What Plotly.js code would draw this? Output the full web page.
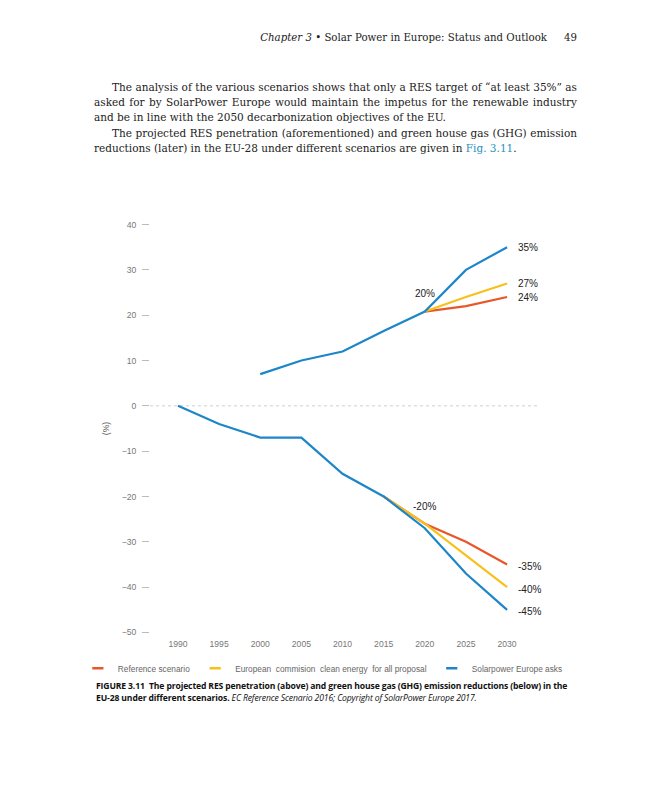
<!DOCTYPE html>
<html>
<head>
<meta charset="utf-8">
<script src="https://cdn.plot.ly/plotly-3.0.1.min.js"></script>
<style>
  html, body { margin: 0; padding: 0; background: #fff; }
  #page { position: relative; width: 647px; height: 800px; overflow: hidden; }
  #chart { position: absolute; left: 0; top: 0; width: 647px; height: 800px; }
  .serif { font-family: "DejaVu Serif", serif; font-size: 10.2px; color: #222; position: absolute; white-space: nowrap; }
  .line { position: absolute; left: 94px; width: 483px; font-family: "DejaVu Serif", serif; font-size: 10.5px; color: #222; line-height: 15px; white-space: nowrap; }
  .just { text-align: justify; text-align-last: justify; white-space: normal; }
  .cap { position: absolute; left: 96px; font-family: "Open Sans", sans-serif; font-size: 8.6px; color: #111; white-space: nowrap; letter-spacing: -0.13px; line-height: 12px; }
</style>
</head>
<body>
<div id="page">
  <div id="chart"></div>
  <div class="serif" style="right:70px; top:32px;"><i>Chapter 3</i> • Solar Power in Europe: Status and Outlook<span style="display:inline-block;width:17px"></span>49</div>
  <div class="line just" style="top:80px; left:112px; width:465px;">The analysis of the various scenarios shows that only a RES target of “at least 35%” as</div>
  <div class="line just" style="top:95px;">asked for by SolarPower Europe would maintain the impetus for the renewable industry</div>
  <div class="line" style="top:110px;">and be in line with the 2050 decarbonization objectives of the EU.</div>
  <div class="line just" style="top:126px; left:112px; width:465px;">The projected RES penetration (aforementioned) and green house gas (GHG) emission</div>
  <div class="line" style="top:141px;">reductions (later) in the EU-28 under different scenarios are given in <span style="color:#2a8fc0">Fig. 3.11</span>.</div>
  <div class="cap" style="top:680px;"><b>FIGURE 3.11&nbsp; The projected RES penetration (above) and green house gas (GHG) emission reductions (below) in the</b></div>
  <div class="cap" style="top:692px;"><b>EU-28 under different scenarios.</b> <i>EC Reference Scenario 2016; Copyright of SolarPower Europe 2017.</i></div>
</div>
<script>
// ---- data ----
const seriesNames = ["Reference scenario", "European  commision  clean energy  for all proposal", "Solarpower Europe asks"];
const seriesColors = ["#e8572a", "#f8c01a", "#1c86c8"];

// RES penetration (above)
const resYearsSolar = [2000, 2005, 2010, 2015, 2020, 2025, 2030];
const resSolar = [7, 10, 12, 16.5, 20.8, 30, 35];
const resYearsScen = [2020, 2025, 2030];
const resRef = [20.8, 22, 24];
const resEC = [20.8, 24, 27];

// GHG emission reductions (below)
const ghgYearsSolar = [1990, 1995, 2000, 2005, 2010, 2015, 2020, 2025, 2030];
const ghgSolar = [0, -4, -7, -7, -15, -20, -27, -37, -45];
const ghgYearsScen = [2015, 2020, 2025, 2030];
const ghgRef = [-20, -26, -30, -35];
const ghgEC = [-20, -26, -33, -40];

const xTicks = [1990, 1995, 2000, 2005, 2010, 2015, 2020, 2025, 2030];
const yTicks = [40, 30, 20, 10, 0, -10, -20, -30, -40, -50];

// value labels: [x, y, text]
const endLabels = [
  [2030, 35, "35%"], [2030, 27, "27%"], [2030, 24, "24%"],
  [2030, -35, "-35%"], [2030, -40, "-40%"], [2030, -45, "-45%"]
];
const midLabels = [[2020, 24.8, "20%"], [2020, -22.3, "-20%"]];

// ---- traces ----
function line(x, y, i) {
  return { x: x, y: y, type: "scatter", mode: "lines", showlegend: false,
    legendgroup: "g" + i, hoverinfo: "skip",
    line: { color: seriesColors[i], width: 2.2 } };
}
const traces = [
  line(resYearsScen, resRef, 0), line(resYearsScen, resEC, 1),
  line(ghgYearsScen, ghgRef, 0), line(ghgYearsScen, ghgEC, 1),
  line(resYearsSolar, resSolar, 2), line(ghgYearsSolar, ghgSolar, 2)
];
seriesNames.forEach((n, i) => {
  traces.push({ x: [null], y: [null], type: "scatter", mode: "markers", name: n,
    legendgroup: "g" + i,
    marker: { symbol: "line-ew", size: 8, color: seriesColors[i], line: { color: seriesColors[i], width: 2.4 } } });
});

const annotations = [];
endLabels.forEach(l => annotations.push({ x: l[0], y: l[1], text: l[2], xref: "x", yref: "y",
  showarrow: false, xanchor: "left", xshift: 9, yshift: l[1] < 0 ? -2 : 0,
  font: { family: "Liberation Sans, Arial, sans-serif", size: 10, color: "#222" } }));
midLabels.forEach(l => annotations.push({ x: l[0], y: l[1], text: l[2], xref: "x", yref: "y",
  showarrow: false, xanchor: "center",
  font: { family: "Liberation Sans, Arial, sans-serif", size: 10, color: "#222" } }));

const layout = {
  width: 647, height: 800,
  margin: { l: 150, r: 107, t: 220, b: 163 },
  paper_bgcolor: "rgba(0,0,0,0)", plot_bgcolor: "rgba(0,0,0,0)",
  showlegend: true,
  legend: { orientation: "h", x: -0.185, xanchor: "left", y: -0.075, yanchor: "middle",
    font: { family: "Liberation Sans, Arial, sans-serif", size: 8.3, color: "#666" },
    itemwidth: 30, tracegroupgap: 0, bgcolor: "rgba(0,0,0,0)" },
  xaxis: { range: [1986.6, 2034], tickvals: xTicks, ticktext: xTicks.map(String),
    showgrid: false, zeroline: false, showline: false, ticks: "",
    tickfont: { family: "Liberation Sans, Arial, sans-serif", size: 8.6, color: "#777" } },
  yaxis: { range: [-51, 41], tickvals: yTicks, showgrid: false, zeroline: false, showline: false,
    ticks: "outside", ticklen: 7, tickcolor: "#bbb", tickwidth: 1, ticklabelstandoff: 4,
    tickfont: { family: "Liberation Sans, Arial, sans-serif", size: 8.6, color: "#777" },
    title: { text: "(%)", standoff: 10, font: { family: "Liberation Sans, Arial, sans-serif", size: 8.6, color: "#555" } } },
  shapes: [{ type: "line", xref: "paper", x0: 0, x1: 1, yref: "y", y0: 0, y1: 0,
    line: { color: "#cfcfcf", width: 1, dash: "dot" }, layer: "below" }],
  annotations: annotations
};
Plotly.newPlot("chart", traces, layout, { displayModeBar: false, staticPlot: true });
</script>
</body>
</html>
